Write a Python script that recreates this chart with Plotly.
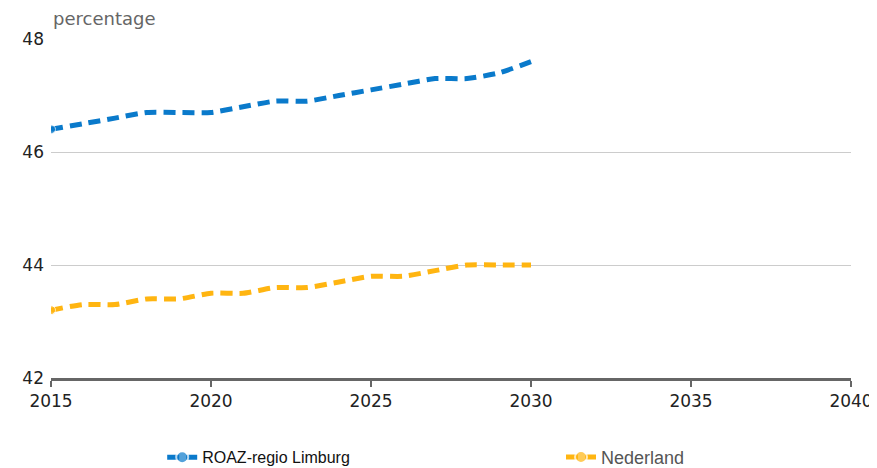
import plotly.graph_objects as go

years = list(range(2015, 2031))
limburg = [46.4, 46.5, 46.6, 46.7, 46.7, 46.7, 46.8, 46.9, 46.9, 47.0, 47.1, 47.2, 47.3, 47.3, 47.4, 47.6]
nederland = [43.2, 43.3, 43.3, 43.4, 43.4, 43.5, 43.5, 43.6, 43.6, 43.7, 43.8, 43.8, 43.9, 44.0, 44.0, 44.0]
names = ["ROAZ-regio Limburg", "Nederland"]
colors = ["#0a7acb", "#ffb511"]
x_ticks = [2015, 2020, 2025, 2030, 2035, 2040]
y_ticks = [42, 44, 46, 48]

fig = go.Figure()
legend_ids = ["legend", "legend2"]
for vals, col, nm, lg in zip([limburg, nederland], colors, names, legend_ids):
    sizes = [9] + [0] * (len(vals) - 1)
    fig.add_trace(go.Scatter(
        x=years, y=vals, name=nm, mode="lines+markers", legend=lg,
        line=dict(color=col, width=5, dash="12px,7px", shape="spline", smoothing=0.6),
        marker=dict(size=sizes, color=col),
    ))

fig.update_layout(
    width=877, height=460,
    margin=dict(l=43, r=34, t=31, b=90, autoexpand=False),
    plot_bgcolor="white", paper_bgcolor="white",
    font=dict(family="DejaVu Sans", size=17, color="#222222"),
    showlegend=True,
    legend=dict(orientation="h", x=0.139, xanchor="left", y=-0.234, yanchor="middle",
                font=dict(family="Liberation Sans", size=16, color="#111111"),
                itemsizing="constant", bgcolor="rgba(0,0,0,0)"),
    legend2=dict(orientation="h", x=0.6375, xanchor="left", y=-0.234, yanchor="middle",
                 font=dict(family="Liberation Sans", size=18, color="#555555"),
                 itemsizing="constant", bgcolor="rgba(0,0,0,0)"),
    xaxis=dict(range=[2015, 2040], tickvals=x_ticks, showgrid=False, zeroline=False,
               showline=True, linecolor="#666666", linewidth=3, automargin=False,
               ticks="outside", ticklen=6, tickwidth=2, tickcolor="#666666",
               tickfont=dict(size=17, color="#222222")),
    yaxis=dict(range=[42, 48], tickvals=y_ticks, showgrid=True, gridcolor="#cccccc", gridwidth=1,
               zeroline=False, showline=False, ticks="", ticklabelstandoff=6, automargin=False,
               tickfont=dict(size=17, color="#222222")),
)
fig.add_annotation(text="percentage", xref="paper", yref="paper", x=0, y=1.0, yshift=21,
                   xanchor="left", yanchor="middle", showarrow=False,
                   font=dict(family="DejaVu Sans", size=18, color="#666666"))

fig.write_html("out.html")
